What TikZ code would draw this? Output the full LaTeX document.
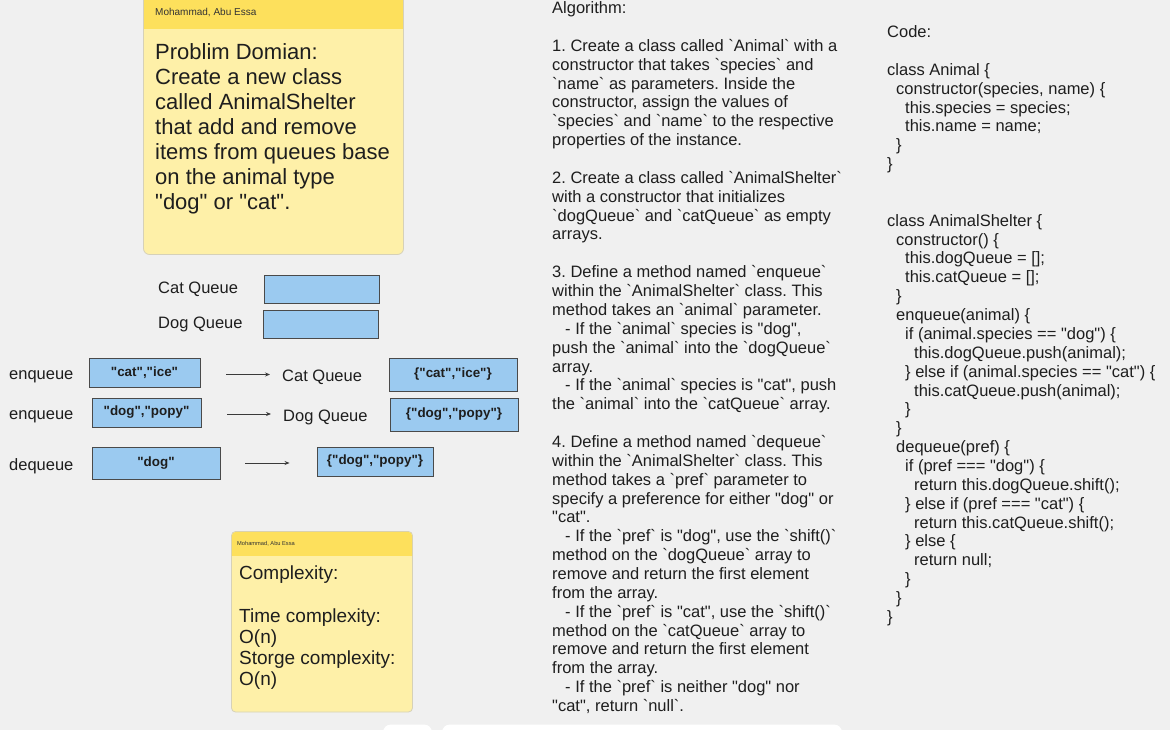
\documentclass[tikz,border=0pt]{standalone}
\usepackage{fontspec}
\newfontfamily\af{Liberation Sans}
\usetikzlibrary{arrows.meta}
\definecolor{bgc}{HTML}{F0F0F0}
\definecolor{stickyhead}{HTML}{FDE05C}
\definecolor{stickybody}{HTML}{FEF0A8}
\definecolor{stickyline}{HTML}{D6D1B8}
\definecolor{qblue}{HTML}{9BCAF0}
\definecolor{boxline}{HTML}{4A4A4A}
\definecolor{arrgray}{HTML}{3A3A3A}
\definecolor{txt}{HTML}{1E1E1E}
\definecolor{headtxt}{HTML}{333333}
\newcommand\ind[1]{\hspace*{#1pt}}
\begin{document}
\frenchspacing
\begin{tikzpicture}[x=1pt,y=-1pt,
  every node/.style={font=\af, text=txt},
  qbox/.style={draw=boxline, fill=qblue, line width=0.9pt, inner sep=0pt, font=\af\bfseries\fontsize{13.4}{15}\selectfont},
  lbl/.style={inner sep=0pt, anchor=west, font=\af\fontsize{16.5}{19}\selectfont},
  arr/.style={-{Stealth[length=5pt,width=4pt]}, draw=arrgray, line width=0.8pt},
  block/.style={inner sep=0pt, anchor=north west, align=left, font=\af\fontsize{16.5}{18.86}\selectfont},
  headlbl/.style={inner sep=0pt, anchor=west, text=headtxt},
]
\useasboundingbox (0,0) rectangle (1170,730);
\clip (0,0) rectangle (1170,730);
\fill[bgc] (0,0) rectangle (1170,730);

% ---------- top sticky note
\draw[stickyline, fill=stickybody, rounded corners=6pt, line width=0.8pt] (143.5,-10) rectangle (403.5,254.5);
\fill[stickyhead] (143.9,-10) rectangle (403.1,29);
\node[headlbl, font=\af\fontsize{10}{11}\selectfont] (head1) at (155,13) {Mohammad, Abu Essa};
\node[block, font=\af\fontsize{22}{25}\selectfont] (prob) at (155,43.5)
 {Problim Domian:\\Create a new class\\called AnimalShelter\\that add and remove\\items from queues base\\on the animal type\\"dog" or "cat".};

% ---------- queues
\node[lbl] (catqlbl) at (158,289.5) {Cat Queue};
\node[lbl] (dogqlbl) at (158,324.5) {Dog Queue};
\node[qbox, minimum width=115pt, minimum height=28pt] (catq) at (321.5,289) {};
\node[qbox, minimum width=115pt, minimum height=28pt] (dogq) at (320.5,324) {};

\node[lbl] (enq1) at (9,377) {enqueue};
\node[lbl] (enq2) at (9,417) {enqueue};
\node[lbl] (deq) at (9,466) {dequeue};

\node[qbox, minimum width=111pt, minimum height=29pt] (catice) at (144.5,372.5) {"cat","ice"};
\node[qbox, minimum width=109pt, minimum height=29pt] (dogpopy) at (146.5,412.5) {"dog","popy"};
\node[qbox, minimum width=128pt, minimum height=32pt] (dogin) at (156,463) {"dog"};

\node[lbl] (catqlbl2) at (282,377) {Cat Queue};
\node[lbl] (dogqlbl2) at (283,417) {Dog Queue};

\node[qbox, minimum width=128pt, minimum height=33pt] (res1) at (453,374.5) {\{"cat","ice"\}};
\node[qbox, minimum width=128pt, minimum height=33pt] (res2) at (454,414.5) {\{"dog","popy"\}};
\node[qbox, minimum width=116pt, minimum height=29pt] (res3) at (375,461.5) {\{"dog","popy"\}};

\draw[arr, shorten <=26pt, shorten >=12pt] ([yshift=-2pt]catice.east) -- ([yshift=-2pt]catice.east -| catqlbl2.west);
\draw[arr, shorten <=26pt, shorten >=12pt] ([yshift=-1.5pt]dogpopy.east) -- ([yshift=-1.5pt]dogpopy.east -| dogqlbl2.west);
\draw[arr, shorten <=25pt, shorten >=27pt] (dogin.east) -- (dogin.east -| res3.west);

% ---------- bottom sticky note
\draw[stickyline, fill=stickybody, rounded corners=4pt, line width=0.8pt] (231.5,531.5) rectangle (412.5,712);
\begin{scope}
\clip (231,531) rectangle (413,555);
\fill[stickyhead, rounded corners=4pt] (231.9,531.9) rectangle (412.1,712);
\end{scope}
\node[headlbl, font=\af\fontsize{5.7}{7}\selectfont] (head2) at (237,543.5) {Mohammad, Abu Essa};
\node[block, font=\af\fontsize{19}{21.2}\selectfont] (cplx) at (239,566)
 {Complexity:\\~\\Time complexity:\\O(n)\\Storge complexity:\\O(n)};

% ---------- algorithm
\node[block] (alg) at (552,1.5)
 {Algorithm:\\~\\
 1. Create a class called `Animal` with a\\
 constructor that takes `species` and\\
 `name` as parameters. Inside the\\
 constructor, assign the values of\\
 `species` and `name` to the respective\\
 properties of the instance.\\~\\
 2. Create a class called `AnimalShelter`\\
 with a constructor that initializes\\
 `dogQueue` and `catQueue` as empty\\
 arrays.\\~\\
 3. Define a method named `enqueue`\\
 within the `AnimalShelter` class. This\\
 method takes an `animal` parameter.\\
 \ind{13}- If the `animal` species is "dog",\\
 push the `animal` into the `dogQueue`\\
 array.\\
 \ind{13}- If the `animal` species is "cat", push\\
 the `animal` into the `catQueue` array.\\~\\
 4. Define a method named `dequeue`\\
 within the `AnimalShelter` class. This\\
 method takes a `pref` parameter to\\
 specify a preference for either "dog" or\\
 "cat".\\
 \ind{13}- If the `pref` is "dog", use the `shift()`\\
 method on the `dogQueue` array to\\
 remove and return the first element\\
 from the array.\\
 \ind{13}- If the `pref` is "cat", use the `shift()`\\
 method on the `catQueue` array to\\
 remove and return the first element\\
 from the array.\\
 \ind{13}- If the `pref` is neither "dog" nor\\
 "cat", return `null`.};

% ---------- code
\node[block] (code) at (887,25.5)
 {Code:\\~\\
 class Animal \{\\
 \ind{9}constructor(species, name) \{\\
 \ind{18}this.species = species;\\
 \ind{18}this.name = name;\\
 \ind{9}\}\\
 \}\\~\\~\\
 class AnimalShelter \{\\
 \ind{9}constructor() \{\\
 \ind{18}this.dogQueue = [];\\
 \ind{18}this.catQueue = [];\\
 \ind{9}\}\\
 \ind{9}enqueue(animal) \{\\
 \ind{18}if (animal.species == "dog") \{\\
 \ind{27}this.dogQueue.push(animal);\\
 \ind{18}\} else if (animal.species == "cat") \{\\
 \ind{27}this.catQueue.push(animal);\\
 \ind{18}\}\\
 \ind{9}\}\\
 \ind{9}dequeue(pref) \{\\
 \ind{18}if (pref === "dog") \{\\
 \ind{27}return this.dogQueue.shift();\\
 \ind{18}\} else if (pref === "cat") \{\\
 \ind{27}return this.catQueue.shift();\\
 \ind{18}\} else \{\\
 \ind{27}return null;\\
 \ind{18}\}\\
 \ind{9}\}\\
 \}};

% ---------- bottom toolbar fragments
\fill[white, rounded corners=8pt] (383,724.5) rectangle (432,760);
\fill[white, rounded corners=8pt] (442,724.5) rectangle (842,760);
\end{tikzpicture}
\end{document}
